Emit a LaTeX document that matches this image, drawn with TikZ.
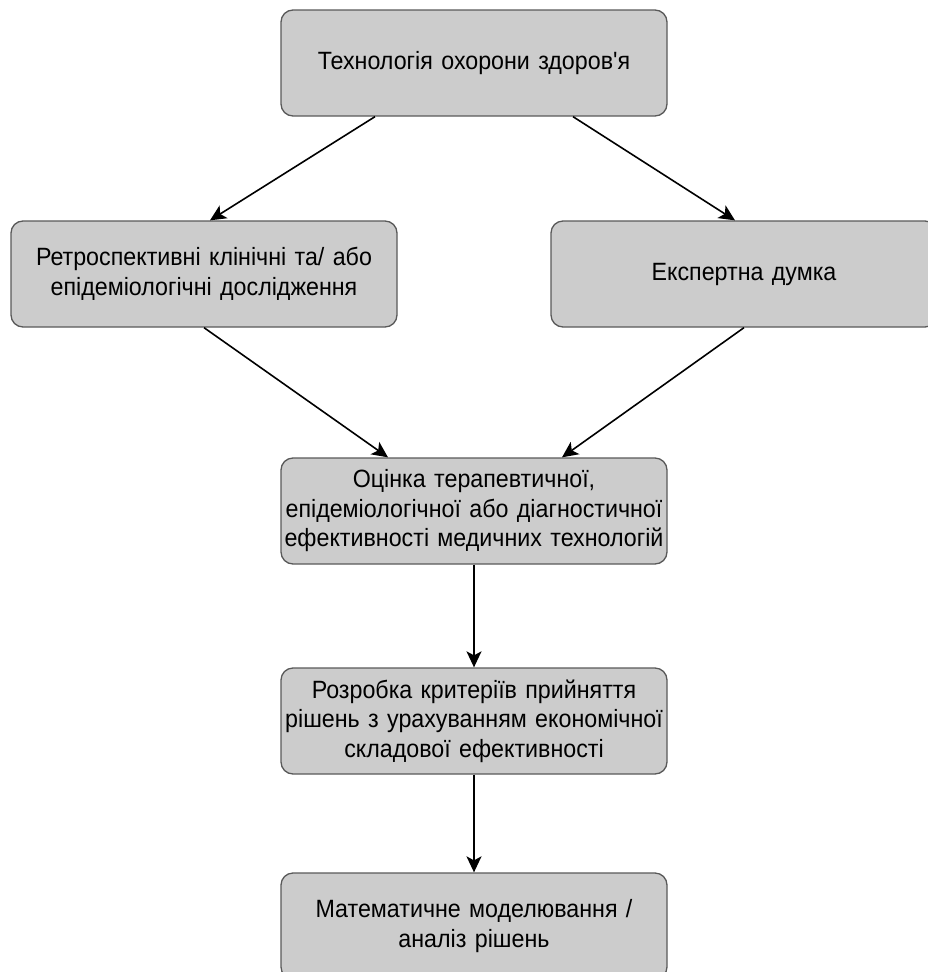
\documentclass[tikz,border=0pt]{standalone}
\usepackage{fontspec}
\setmainfont{Liberation Sans}[FakeStretch=0.93, Ligatures=TeXOff]
\usetikzlibrary{calc,arrows.meta}
\tikzset{
  box/.style={draw=black!65, line width=1.3pt, fill=black!20, rounded corners=12pt,
    minimum width=386pt, minimum height=106pt, inner sep=0pt,
    text width=386pt, align=center,
    font=\fontsize{25pt}{29.5pt}\selectfont},
  arr/.style={line width=1.6pt, -{Stealth[length=16pt,width=15pt,inset=4pt]}}
}
\begin{document}
\begin{tikzpicture}[x=1pt,y=-1pt]
\useasboundingbox (0,0) rectangle (928,972);
\clip (0,0) rectangle (928,972);
\node[box] (b1) at (474,63) {Технологія охорони здоров'я};
\node[box] (b2) at (204,274) {Ретроспективні клінічні та/ або\\епідеміологічні дослідження};
\node[box] (b3) at (744,274) {Експертна думка};
\node[box] (b4) at (474,511) {Оцінка терапевтичної,\\епідеміологічної або діагностичної\\ефективності медичних технологій};
\node[box] (b5) at (474,721) {Розробка критеріїв прийняття\\рішень з урахуванням економічної\\складової ефективності};
\node[box] (b6) at (474,926) {Математичне моделювання /\\аналіз рішень};
\draw[arr] ($(b1.south)+(-99,0)$) -- ($(b2.north)+(6,0)$);
\draw[arr] ($(b1.south)+(99,0)$) -- ($(b3.north)+(-9,0)$);
\draw[arr] (b2.south) -- ($(b4.north)+(-86,0)$);
\draw[arr] (b3.south) -- ($(b4.north)+(88,0)$);
\draw[arr] (b4.south) -- (b5.north);
\draw[arr] (b5.south) -- (b6.north);
\end{tikzpicture}
\end{document}
